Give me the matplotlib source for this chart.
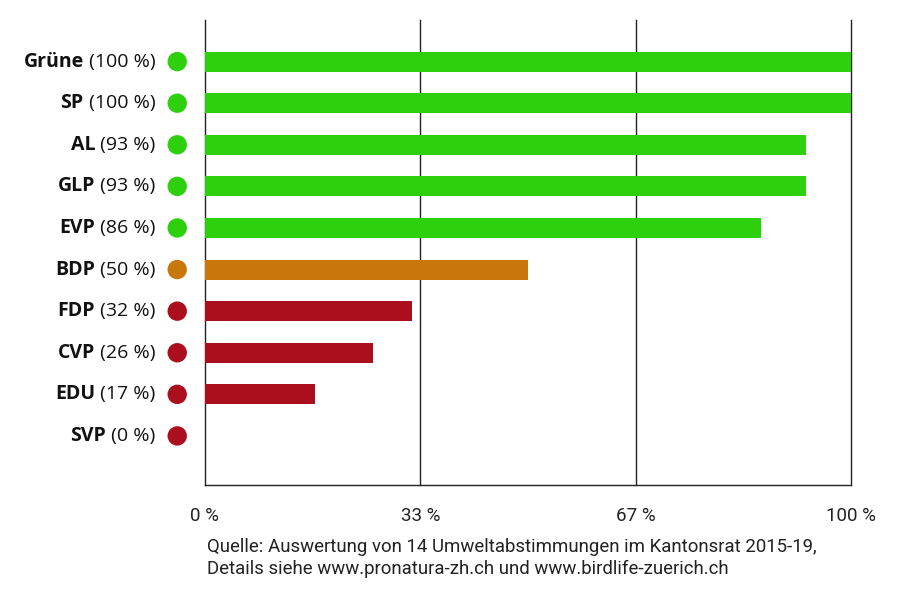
import matplotlib
matplotlib.use("Agg")
import matplotlib.pyplot as plt
from matplotlib.offsetbox import TextArea, HPacker, AnnotationBbox

parties = ["Grüne", "SP", "AL", "GLP", "EVP", "BDP", "FDP", "CVP", "EDU", "SVP"]
values = [100, 100, 93, 93, 86, 50, 32, 26, 17, 0]
groups = ["g", "g", "g", "g", "g", "o", "r", "r", "r", "r"]
tick_vals = [0, 100/3, 200/3, 100]
tick_labels = ["0 %", "33 %", "67 %", "100 %"]
source = ("Quelle: Auswertung von 14 Umweltabstimmungen im Kantonsrat 2015-19,\n"
          "Details siehe www.pronatura-zh.ch und www.birdlife-zuerich.ch")

colors = {"g": "#2ecf0c", "o": "#c8780a", "r": "#ab0e1c"}

fig = plt.figure(figsize=(9.02, 6.0), dpi=100)
ax = fig.add_axes([205/902, 1-485/600, (851-205)/902, (485-20)/600])

ys = list(range(len(parties)))
ax.barh(ys, values, height=0.48, color=[colors[g] for g in groups], zorder=3)
ax.set_xlim(0, 100)
ax.set_ylim(10.18, -1.0)

for s in ["top", "right", "left"]:
    ax.spines[s].set_visible(False)
ax.spines["bottom"].set_color("#222222")
ax.spines["bottom"].set_linewidth(1.0)
for tv in tick_vals:
    ax.axvline(tv, color="#222222", lw=1.0, zorder=1, clip_on=False)

ax.set_xticks(tick_vals)
ax.set_xticklabels(tick_labels, fontsize=13.5, family="Roboto", color="#222222")
ax.tick_params(axis="x", length=0, pad=16)
ax.set_yticks([])

# circles
ax.scatter([-4.3]*len(ys), ys, s=195, c=[colors[g] for g in groups],
           clip_on=False, zorder=4, linewidths=0)

for y, p, v in zip(ys, parties, values):
    t1 = TextArea(p, textprops=dict(fontsize=14, fontweight="bold", family="Open Sans", color="#111111"))
    t2 = TextArea(f" ({v} %)", textprops=dict(fontsize=14, family="Open Sans", color="#111111"))
    box = HPacker(children=[t1, t2], align="baseline", pad=0, sep=0)
    ab = AnnotationBbox(box, (-7.7, y), xycoords="data", box_alignment=(1.0, 0.5),
                        frameon=False, annotation_clip=False, pad=0)
    ax.add_artist(ab)

fig.text(207/902, 1-558/600, source, fontsize=13.4, family="Roboto", color="#222222",
         va="center", ha="left", linespacing=1.3)

fig.savefig("out.png", dpi=100)
